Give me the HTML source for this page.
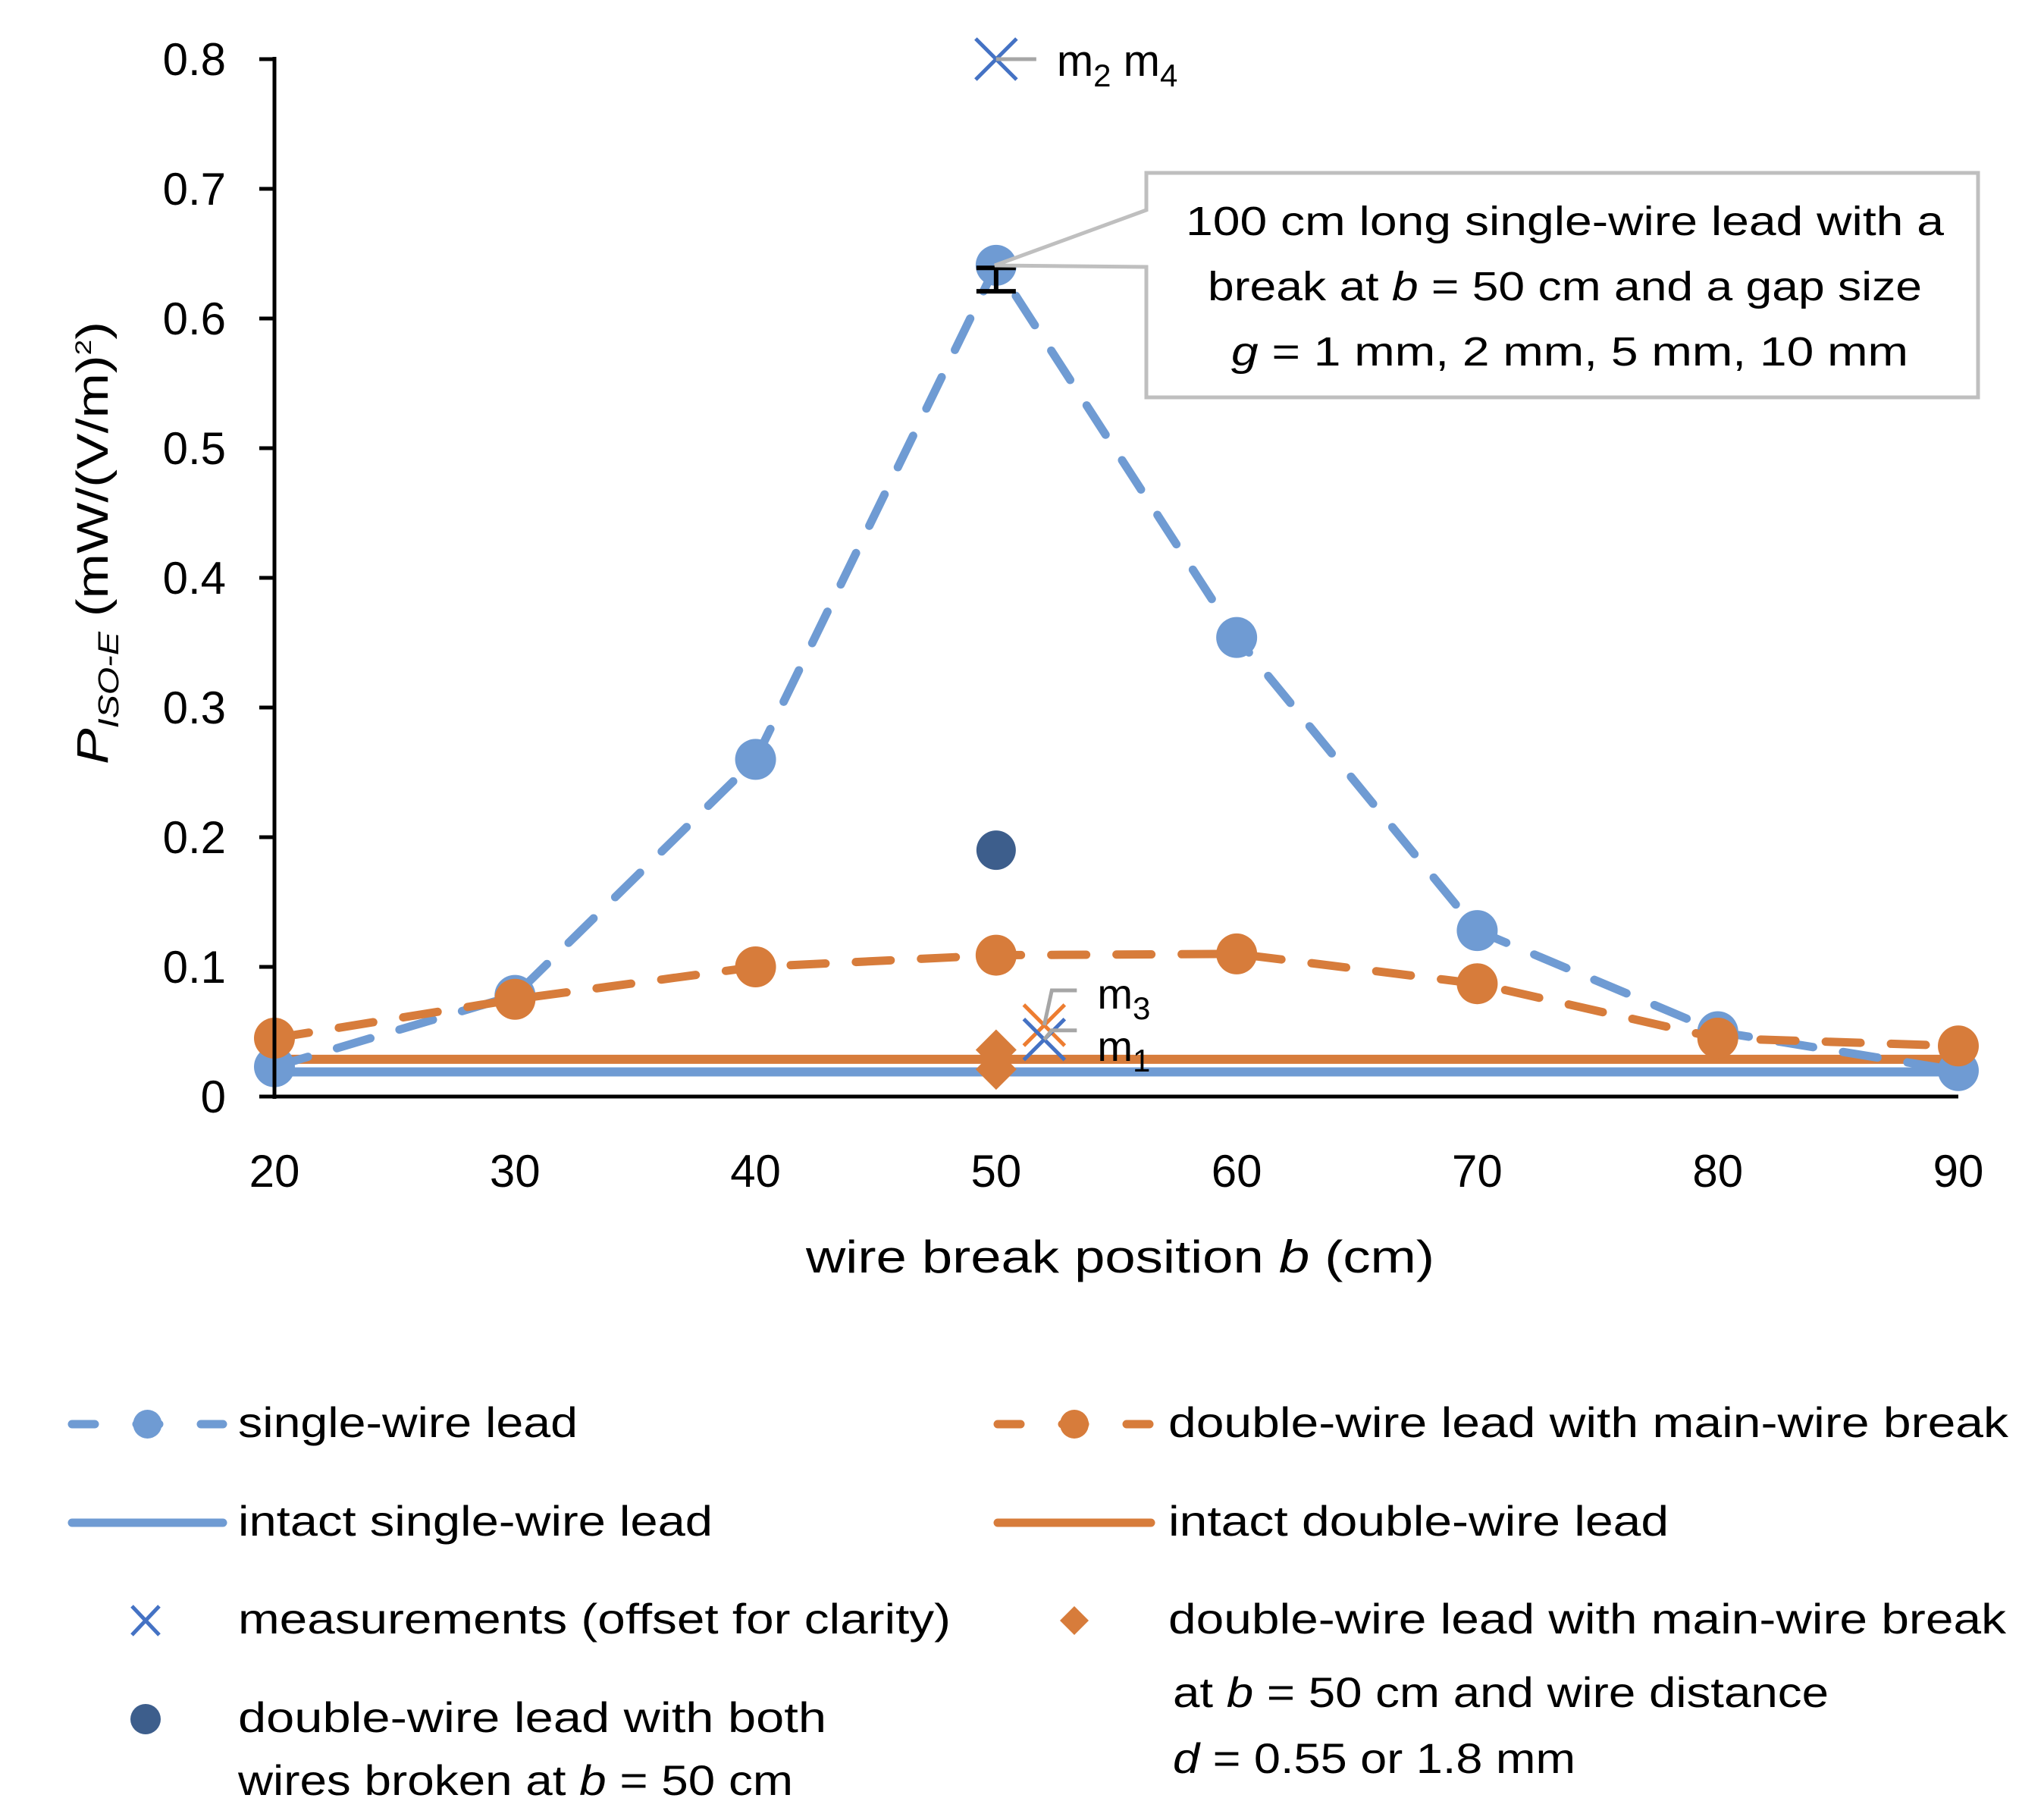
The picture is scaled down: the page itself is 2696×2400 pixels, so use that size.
<!DOCTYPE html>
<html><head><meta charset="utf-8"><style>
html,body{margin:0;padding:0;background:#fff;}
svg{display:block;font-family:"Liberation Sans",sans-serif;}
</style></head><body>
<svg id="chart" width="2696" height="2400" viewBox="0 0 2696 2400" xmlns="http://www.w3.org/2000/svg">
<rect width="2696" height="2400" fill="#fff"/>
<g id="plot"></g>
<g id="annot">
  <path d="M1512 228 H2609 V524 H1512 V352 L1312 350 L1512 277 Z" fill="#fff" stroke="#bfbfbf" stroke-width="5"/>
  <text x="1564" y="310" font-size="54" textLength="1000" lengthAdjust="spacingAndGlyphs">100 cm long single-wire lead with a</text>
  <text x="1593" y="396" font-size="54" textLength="942" lengthAdjust="spacingAndGlyphs">break at <tspan font-style="italic">b</tspan> = 50 cm and a gap size</text>
  <text x="1624" y="482" font-size="54" textLength="893" lengthAdjust="spacingAndGlyphs"><tspan font-style="italic">g</tspan> = 1 mm, 2 mm, 5 mm, 10 mm</text>
</g>
<g id="axes"></g>
<g id="legend"></g>
</svg>
<script>
const categories = [20, 30, 40, 50, 60, 70, 80, 90];
const singleWire = [0.023, 0.078, 0.26, 0.641, 0.354, 0.128, 0.05, 0.02];
const doubleWire = [0.045, 0.075, 0.1, 0.109, 0.11, 0.087, 0.045, 0.039];
const intactSingle = 0.019;
const intactDouble = 0.0287;
const bothBroken = [{b: 50, v: 0.19}];
const diamonds = [{b: 50, v: 0.036}, {b: 50, v: 0.021}];
const measurements = [
  {b: 50, v: 0.8, color: "#4472c4", label: "m2m4"},
  {b: 52, v: 0.055, color: "#ed7d31", label: "m3"},
  {b: 52, v: 0.044, color: "#4472c4", label: "m1"}
];
const errorBar = {b: 50, lo: 0.621, hi: 0.639};
const xTicks = [20, 30, 40, 50, 60, 70, 80, 90];
const yTicks = [0, 0.1, 0.2, 0.3, 0.4, 0.5, 0.6, 0.7, 0.8];
const yTickLabels = ["0", "0.1", "0.2", "0.3", "0.4", "0.5", "0.6", "0.7", "0.8"];

const X0 = 362, X1 = 2583, Y0 = 1446, Y1 = 78;
const xs = b => X0 + (b - 20) / 70 * (X1 - X0);
const ys = v => Y0 - v / 0.8 * (Y0 - Y1);
const NS = "http://www.w3.org/2000/svg";
function mk(tag, attrs, parent) {
  const e = document.createElementNS(NS, tag);
  for (const k in attrs) e.setAttribute(k, attrs[k]);
  parent.appendChild(e);
  return e;
}
const plot = document.getElementById("plot");
const axes = document.getElementById("axes");
const legend = document.getElementById("legend");
const BLUE = "#6f9bd3", ORANGE = "#d77c3b", DARK = "#3d5e8c";

let l = mk("line", {x1: xs(20), x2: xs(90), y1: ys(intactDouble), y2: ys(intactDouble), stroke: ORANGE, "stroke-width": 12}, plot);


l = mk("line", {x1: xs(20), x2: xs(90), y1: ys(intactSingle), y2: ys(intactSingle), stroke: BLUE, "stroke-width": 12}, plot);



function series(vals, color, name) {
  const pts = categories.map((c, i) => xs(c) + "," + ys(vals[i])).join(" ");
  const pl = mk("polyline", {points: pts, fill: "none", stroke: color, "stroke-width": 11, "stroke-dasharray": "46 40", "stroke-linecap": "round"}, plot);
  
  
  categories.forEach((c, i) => {
    const ci = mk("circle", {cx: xs(c), cy: ys(vals[i]), r: 27, fill: color}, plot);
    
    
  });
}
series(singleWire, BLUE, "single-wire");
series(doubleWire, ORANGE, "double-wire");

bothBroken.forEach(p => {
  const c = mk("circle", {cx: xs(p.b), cy: ys(p.v), r: 26, fill: DARK}, plot);
  
  
});
diamonds.forEach(p => {
  const x = xs(p.b), y = ys(p.v), s = 27;
  const d = mk("polygon", {points: `${x},${y-s} ${x+s},${y} ${x},${y+s} ${x-s},${y}`, fill: ORANGE}, plot);
  
  
});
{
  const x = xs(errorBar.b), a = ys(errorBar.hi), b = ys(errorBar.lo);
  const g = mk("path", {d: `M${x-26} ${a} H${x+26} M${x} ${a} V${b} M${x-26} ${b} H${x+26}`, stroke: "#000", "stroke-width": 6, fill: "none"}, plot);
  
  
}
measurements.forEach(m => {
  const x = xs(m.b), y = ys(m.v), s = 27;
  const g = mk("path", {d: `M${x-s} ${y-s} L${x+s} ${y+s} M${x-s} ${y+s} L${x+s} ${y-s}`, stroke: m.color, "stroke-width": 5, fill: "none"}, plot);
  
  
});
{
  const m = measurements[0], x = xs(m.b), y = ys(m.v);
  mk("line", {x1: x, y1: y, x2: x + 53, y2: y, stroke: "#a6a6a6", "stroke-width": 5}, plot);
  const t = mk("text", {x: x + 80, y: y + 22, "font-size": 58}, plot);
  
  
  t.innerHTML = 'm<tspan font-size="42" dy="14">2</tspan><tspan dy="-14"> m</tspan><tspan font-size="42" dy="14">4</tspan>';
  const m3 = measurements[1], m1 = measurements[2];
  mk("path", {d: `M${xs(m3.b)} ${ys(m3.v)} L${xs(m3.b)+10} ${ys(m3.v)-46} H${xs(m3.b)+43}`, stroke: "#a6a6a6", "stroke-width": 5, fill: "none"}, plot);
  mk("path", {d: `M${xs(m1.b)} ${ys(m1.v)} L${xs(m1.b)+10} ${ys(m1.v)-12} H${xs(m1.b)+43}`, stroke: "#a6a6a6", "stroke-width": 5, fill: "none"}, plot);
  const t3 = mk("text", {x: xs(m3.b) + 70, y: ys(m3.v) - 22, "font-size": 56}, plot);
  
  
  t3.innerHTML = 'm<tspan font-size="42" dy="14">3</tspan>';
  const t1 = mk("text", {x: xs(m1.b) + 70, y: ys(m1.v) + 28, "font-size": 56}, plot);
  
  
  t1.innerHTML = 'm<tspan font-size="42" dy="14">1</tspan>';
}

l = mk("line", {x1: X0, y1: Y1 - 3, x2: X0, y2: Y0 + 3, stroke: "#000", "stroke-width": 5}, axes);


l = mk("line", {x1: X0 - 20, y1: Y0, x2: X1, y2: Y0, stroke: "#000", "stroke-width": 5}, axes);


yTicks.forEach((v, i) => {
  mk("line", {x1: X0 - 20, x2: X0, y1: ys(v), y2: ys(v), stroke: "#000", "stroke-width": 5}, axes);
  const t = mk("text", {x: 298, y: ys(v) + 21, "font-size": 60, "text-anchor": "end"}, axes);
  
  
  t.textContent = yTickLabels[i];
});
xTicks.forEach(b => {
  const t = mk("text", {x: xs(b), y: 1565, "font-size": 60, "text-anchor": "middle"}, axes);
  
  
  t.textContent = b;
});
let t = mk("text", {x: 1063, y: 1678, "font-size": 60, textLength: 829, lengthAdjust: "spacingAndGlyphs"}, axes);


t.innerHTML = 'wire break position <tspan font-style="italic">b</tspan> (cm)';
t = mk("text", {x: 0, y: 0, "font-size": 58, transform: "translate(142,1008) rotate(-90)", textLength: 584, lengthAdjust: "spacingAndGlyphs"}, axes);


t.innerHTML = '<tspan font-style="italic">P</tspan><tspan font-style="italic" font-size="38" dy="14">ISO-E</tspan><tspan dy="-14"> (mW/(V/m)</tspan><tspan font-size="30" dy="-22">2</tspan><tspan dy="22">)</tspan>';

function legText(x, y, w, html, name) {
  const e = mk("text", {x: x, y: y + 17, "font-size": 56, textLength: w, lengthAdjust: "spacingAndGlyphs"}, legend);
  
  
  e.innerHTML = html;
}
function legLine(x1, x2, y, color, dashed, marker) {
  const g = mk("line", {x1: x1, x2: x2, y1: y, y2: y, stroke: color, "stroke-width": 11, "stroke-linecap": "round"}, legend);
  if (dashed) g.setAttribute("stroke-dasharray", "30 55");
  if (marker) mk("circle", {cx: (x1 + x2) / 2, cy: y, r: 19, fill: color}, legend);
}
legLine(95, 294, 1878, BLUE, true, true);
legText(314, 1878, 448, 'single-wire lead', 'legend-single-wire');
legLine(1316, 1518, 1878, ORANGE, true, true);
legText(1541, 1878, 1108, 'double-wire lead with  main-wire break', 'legend-double-wire');
legLine(95, 294, 2008, BLUE, false, false);
legText(314, 2008, 626, 'intact single-wire lead', 'legend-intact-single');
legLine(1316, 1518, 2008, ORANGE, false, false);
legText(1541, 2008, 660, 'intact double-wire lead', 'legend-intact-double');
mk("path", {d: "M174 2118 L210 2156 M174 2156 L210 2118", stroke: "#4472c4", "stroke-width": 5, fill: "none"}, legend);
legText(314, 2137, 940, 'measurements (offset for clarity)', 'legend-measurements');
mk("polygon", {points: "1417,2118 1436,2137 1417,2156 1398,2137", fill: ORANGE}, legend);
legText(1541, 2137, 1105, 'double-wire lead with main-wire break', 'legend-diamond');
mk("circle", {cx: 192, cy: 2267, r: 20, fill: DARK}, legend);
legText(314, 2267, 776, 'double-wire lead with both', 'legend-both-broken');
legText(314, 2350, 732, 'wires broken at <tspan font-style="italic">b</tspan> = 50 cm', 'legend-both-broken-2');
legText(1547, 2234, 865, 'at <tspan font-style="italic">b</tspan> = 50 cm and wire distance', 'legend-diamond-2');
legText(1547, 2321, 531, '<tspan font-style="italic">d</tspan> = 0.55 or 1.8 mm', 'legend-diamond-3');
</script>
</body></html>
